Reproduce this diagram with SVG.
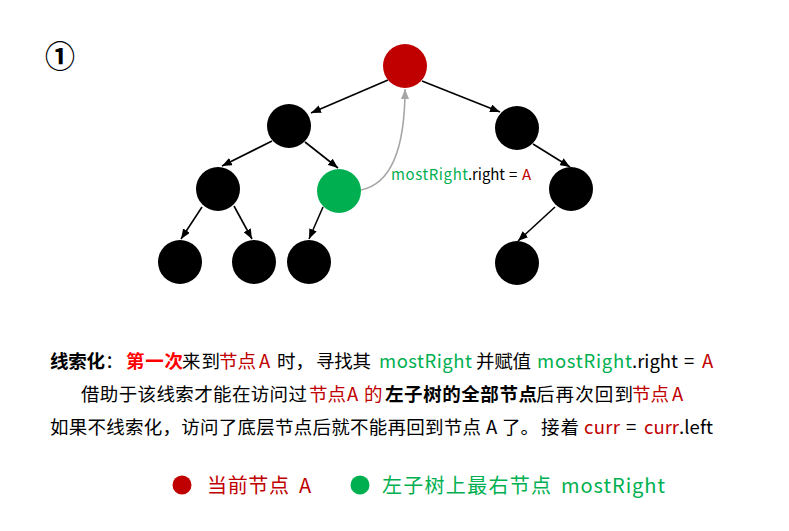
<svg xmlns="http://www.w3.org/2000/svg" width="789" height="531" viewBox="0 0 789 531">
<defs>
<marker id="ah" markerWidth="10" markerHeight="8" refX="10" refY="4" orient="auto" markerUnits="userSpaceOnUse"><path d="M0,0 L10,4 L0,8 Z" fill="#000"/></marker>
<marker id="ahg" markerWidth="10" markerHeight="8" refX="10" refY="4" orient="auto" markerUnits="userSpaceOnUse"><path d="M0,0 L10,4 L0,8 Z" fill="#A6A6A6"/></marker>
<style>
text{font-family:"Noto Sans CJK SC","Noto Sans",sans-serif;}
.e{stroke:#000;stroke-width:1.6;fill:none;marker-end:url(#ah);}
.n{fill:#000;}
.r{fill:#C00000;}
.g{fill:#00B050;}
.t{font-size:18.5px;fill:#000;}
.b{font-weight:bold;}
</style>
</defs>
<rect width="789" height="531" fill="#fff"/>
<text x="60" y="67" font-size="30" font-weight="bold" text-anchor="middle" fill="#000">①</text>
<g id="connectors">
<line class="e" x1="388" y1="80" x2="311" y2="113"/>
<line class="e" x1="422" y1="81" x2="500" y2="112"/>
<line class="e" x1="272" y1="141" x2="222" y2="166"/>
<line class="e" x1="305" y1="142" x2="338" y2="168"/>
<line class="e" x1="202" y1="207" x2="181" y2="239"/>
<line class="e" x1="234" y1="206" x2="252" y2="239"/>
<line class="e" x1="323" y1="207" x2="309" y2="239"/>
<line class="e" x1="533" y1="144" x2="570" y2="167"/>
<line class="e" x1="555" y1="207" x2="518" y2="241"/>
<path d="M361,190 C395,183 405,140 405,89" stroke="#A6A6A6" stroke-width="1.6" fill="none" marker-end="url(#ahg)"/>
</g>
<g id="nodeA"><circle class="r" cx="405" cy="66" r="22"/></g>
<g id="nodeL1"><circle class="n" cx="289" cy="126" r="22"/></g>
<g id="nodeR1"><circle class="n" cx="517" cy="128" r="22"/></g>
<g id="nodeL2"><circle class="n" cx="218" cy="189" r="22"/></g>
<g id="nodeMostRight"><circle class="g" cx="339" cy="191" r="22"/></g>
<g id="nodeR2"><circle class="n" cx="571" cy="189" r="22"/></g>
<g id="nodeL3a"><circle class="n" cx="180" cy="262" r="22"/></g>
<g id="nodeL3b"><circle class="n" cx="254" cy="262" r="22"/></g>
<g id="nodeL3c"><circle class="n" cx="309" cy="262" r="22"/></g>
<g id="nodeR3"><circle class="n" cx="517" cy="263" r="22"/></g>
<text y="180" font-size="15" fill="#000"><tspan x="391" textLength="77" fill="#00B050">mostRight</tspan><tspan x="468" textLength="37">.right</tspan><tspan x="509">=</tspan><tspan x="522" fill="#C00000">A</tspan></text>
<text class="t" y="368"><tspan x="50" class="b" textLength="55">线索化</tspan><tspan x="105">：</tspan><tspan x="126" class="b" fill="#FF0000" textLength="57">第一次</tspan><tspan x="182" textLength="38">来到</tspan><tspan x="219" fill="#C00000" textLength="37">节点</tspan><tspan x="259" fill="#C00000">A</tspan><tspan x="277">时，</tspan><tspan x="316" textLength="55">寻找其</tspan><tspan x="379" fill="#00B050" textLength="93">mostRight</tspan><tspan x="476" textLength="55">并赋值</tspan><tspan x="537" fill="#00B050" textLength="95">mostRight</tspan><tspan x="632" textLength="46">.right</tspan><tspan x="684">=</tspan><tspan x="702" fill="#C00000">A</tspan></text>
<text class="t" y="401"><tspan x="81" textLength="226">借助于该线索才能在访问过</tspan><tspan x="309" fill="#C00000" textLength="37">节点</tspan><tspan x="347" fill="#C00000">A</tspan><tspan x="364" fill="#C00000">的</tspan><tspan x="385" class="b" textLength="152">左子树的全部节点</tspan><tspan x="536" textLength="97">后再次回到</tspan><tspan x="632" fill="#C00000" textLength="37">节点</tspan><tspan x="672" fill="#C00000">A</tspan></text>
<text class="t" y="434"><tspan x="50" textLength="431">如果不线索化，访问了底层节点后就不能再回到节点</tspan><tspan x="486">A</tspan><tspan x="502">了。</tspan><tspan x="541" textLength="38">接着</tspan><tspan x="584" fill="#C00000" textLength="36">curr</tspan><tspan x="626">=</tspan><tspan x="644" fill="#C00000" textLength="35">curr</tspan><tspan x="679" textLength="34">.left</tspan></text>
<g id="legend">
<circle class="r" cx="182" cy="485" r="9.5"/>
<text y="493" font-size="20" fill="#C00000"><tspan x="207" textLength="82">当前节点</tspan><tspan x="299">A</tspan></text>
<circle class="g" cx="360" cy="485" r="9.5"/>
<text y="493" font-size="20" fill="#00B050"><tspan x="382" textLength="169">左子树上最右节点</tspan><tspan x="561" textLength="104">mostRight</tspan></text>
</g>
</svg>
